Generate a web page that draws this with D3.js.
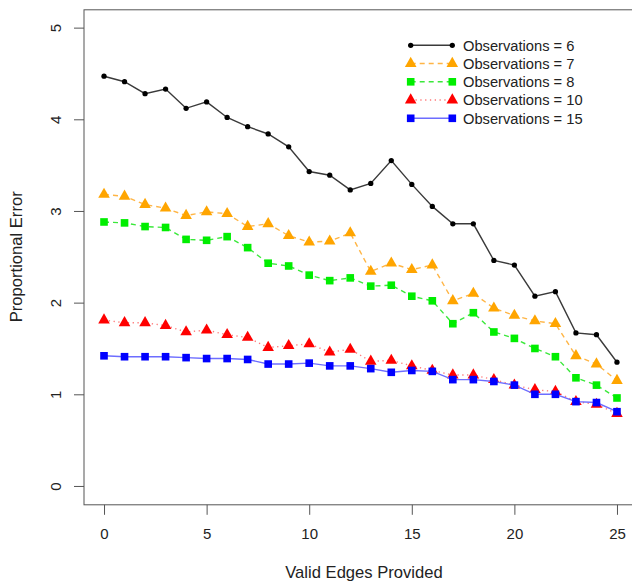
<!DOCTYPE html>
<html>
<head>
<meta charset="utf-8">
<script src="https://cdn.jsdelivr.net/npm/d3@7"></script>
<style>
  body { margin: 0; background: #fff; }
  svg { display: block; font-family: "Liberation Sans", Arial, sans-serif; }
</style>
</head>
<body>
<svg id="chart" width="632" height="584"></svg>
<script>
// valid edges provided (x axis)
const edges = [0, 1, 2, 3, 4, 5, 6, 7, 8, 9, 10, 11, 12, 13, 14, 15, 16, 17, 18, 19, 20, 21, 22, 23, 24, 25];

// proportional error per number of observations
const obs6 = [4.47, 4.41, 4.28, 4.33, 4.12, 4.19, 4.02, 3.92, 3.84, 3.70, 3.43, 3.39, 3.23, 3.30, 3.55, 3.29, 3.05, 2.86, 2.86, 2.46, 2.41, 2.07, 2.12, 1.67, 1.65, 1.35];
const obs7 = [3.18, 3.16, 3.07, 3.03, 2.95, 2.99, 2.97, 2.83, 2.86, 2.73, 2.66, 2.67, 2.76, 2.34, 2.43, 2.36, 2.41, 2.02, 2.10, 1.94, 1.86, 1.80, 1.77, 1.42, 1.33, 1.15];
const obs8 = [2.88, 2.87, 2.83, 2.82, 2.69, 2.68, 2.72, 2.60, 2.43, 2.40, 2.30, 2.24, 2.27, 2.18, 2.19, 2.07, 2.02, 1.77, 1.89, 1.68, 1.61, 1.50, 1.41, 1.18, 1.10, 0.96];
const obs10 = [1.81, 1.78, 1.78, 1.75, 1.68, 1.70, 1.65, 1.62, 1.51, 1.53, 1.55, 1.46, 1.49, 1.36, 1.37, 1.31, 1.26, 1.21, 1.21, 1.16, 1.10, 1.05, 1.03, 0.92, 0.89, 0.79];
const obs15 = [1.42, 1.41, 1.41, 1.41, 1.40, 1.39, 1.39, 1.38, 1.33, 1.33, 1.34, 1.31, 1.31, 1.28, 1.24, 1.26, 1.25, 1.16, 1.16, 1.14, 1.10, 1.00, 1.00, 0.92, 0.91, 0.81];

const seriesLabels = ["Observations = 6", "Observations = 7", "Observations = 8", "Observations = 10", "Observations = 15"];
const xTicks = [0, 5, 10, 15, 20, 25];
const yTicks = [0, 1, 2, 3, 4, 5];

const series = [
  { label: seriesLabels[0], values: obs6,  color: "#000000", line: "#3a3a3a", dash: null,  shape: "circle" },
  { label: seriesLabels[1], values: obs7,  color: "#ffa500", line: "#ffb545", dash: "5,4", shape: "triangle" },
  { label: seriesLabels[2], values: obs8,  color: "#00ee00", line: "#3be83b", dash: "5,4", shape: "square" },
  { label: seriesLabels[3], values: obs10, color: "#ff0000", line: "#ff7a7a", dash: "1.3,3.5", shape: "triangle" },
  { label: seriesLabels[4], values: obs15, color: "#0000ff", line: "#6d6dff", dash: null,  shape: "square" },
];

const svg = d3.select("#chart");

// R style: limits padded by 4%
const x = d3.scaleLinear().domain([-1, 26]).range([83.5, 637.5]);
const y = d3.scaleLinear().domain([-0.2, 5.2]).range([504.3, 9.3]);

// plot box
svg.append("rect")
  .attr("x", x(-1) + 0.5)
  .attr("y", y(5.2) + 0.5)
  .attr("width", x(26) - x(-1))
  .attr("height", y(-0.2) - y(5.2))
  .attr("fill", "none")
  .attr("stroke", "#555")
  .attr("stroke-width", 1);

const xAxis = svg.append("g")
  .attr("transform", `translate(0,${y(-0.2) + 0.5})`)
  .call(d3.axisBottom(x).tickValues(xTicks).tickSize(10).tickPadding(14));

const yAxis = svg.append("g")
  .attr("transform", `translate(${x(-1) + 0.5},0)`)
  .call(d3.axisLeft(y).tickValues(yTicks).tickFormat(d3.format("d")).tickSize(10).tickPadding(0));

[xAxis, yAxis].forEach(g => {
  g.select(".domain").remove();
  g.selectAll(".tick line").attr("stroke", "#555");
  g.selectAll("text")
    .attr("fill", "#222")
    .style("font-size", "15px")
    .style("font-family", "'Liberation Sans', Arial, sans-serif");
});

// y labels parallel to the axis
yAxis.selectAll(".tick text")
  .attr("x", null).attr("dy", null)
  .attr("text-anchor", "middle")
  .attr("transform", "translate(-23,0) rotate(-90)");

// axis titles
svg.append("text")
  .attr("x", 364)
  .attr("y", 578)
  .attr("text-anchor", "middle")
  .attr("fill", "#222")
  .style("font-size", "16.6px")
  .text("Valid Edges Provided");

svg.append("text")
  .attr("transform", `translate(22,${(y(-0.2) + y(5.2)) / 2}) rotate(-90)`)
  .attr("text-anchor", "middle")
  .attr("fill", "#222")
  .style("font-size", "16.6px")
  .text("Proportional Error");

function symbolFor(shape) {
  if (shape === "circle") return d3.symbol(d3.symbolCircle, 22);
  if (shape === "triangle") return d3.symbol(d3.symbolTriangle, 58);
  return d3.symbol(d3.symbolSquare, 58);
}

const line = d3.line()
  .x((d, i) => x(edges[i]))
  .y(d => y(d));

series.forEach(s => {
  svg.append("path")
    .datum(s.values)
    .attr("d", line)
    .attr("fill", "none")
    .attr("stroke", s.line)
    .attr("stroke-width", 1.4)
    .attr("stroke-dasharray", s.dash);

  svg.selectAll(null)
    .data(s.values)
    .enter()
    .append("path")
    .attr("d", symbolFor(s.shape))
    .attr("transform", (d, i) => `translate(${x(edges[i])},${y(d)})`)
    .attr("fill", s.color);
});

// legend (no box)
const legend = svg.append("g");
series.forEach((s, i) => {
  const ly = 45.3 + i * 18.25;
  legend.append("line")
    .attr("x1", 410.7).attr("x2", 452.3)
    .attr("y1", ly).attr("y2", ly)
    .attr("stroke", s.line)
    .attr("stroke-width", 1.4)
    .attr("stroke-dasharray", s.dash);
  [410.7, 452.3].forEach(px => {
    legend.append("path")
      .attr("d", symbolFor(s.shape))
      .attr("transform", `translate(${px},${ly})`)
      .attr("fill", s.color);
  });
  legend.append("text")
    .attr("x", 463)
    .attr("y", ly + 5.3)
    .attr("fill", "#222")
    .style("font-size", "14.7px")
    .text(s.label);
});
</script>
</body>
</html>
